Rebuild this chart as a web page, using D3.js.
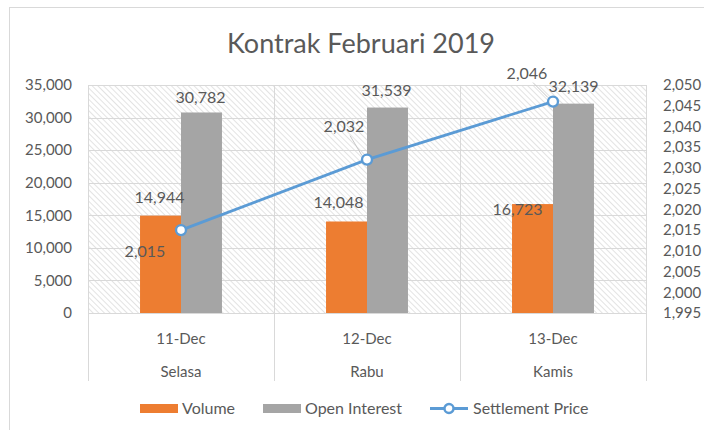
<!DOCTYPE html>
<html>
  <head>
    <title>Kontrak Februari 2019</title>
    <script src="https://d3js.org/d3.v7.min.js"></script>
    <style>
      body { margin: 0; background: #fff; }
      text { font-family: Lato, "Open Sans", sans-serif; fill: #595959; }
    </style>
  </head>
  <body>
    <div id="chart"></div>
    <script>
      // Data
      const categories = ["11-Dec", "12-Dec", "13-Dec"];
      const days = ["Selasa", "Rabu", "Kamis"];
      const volume = [14944, 14048, 16723];
      const openInterest = [30782, 31539, 32139];
      const settlement = [2015, 2032, 2046];
      const leftTicks = [0, 5000, 10000, 15000, 20000, 25000, 30000, 35000];
      const rightTicks = [1995, 2000, 2005, 2010, 2015, 2020, 2025, 2030, 2035, 2040, 2045, 2050];

      // label offsets (manual placement like the original)
      const volOffset = [[-1, -19], [-8, -19], [-15, 5]];
      const oiOffset = [[-1, -15], [-1, -18], [0, -18]];
      const spOffset = [[-36, 21], [-23, -34], [-26, -29]];

      const W = 704, H = 430;
      const plot = { left: 88, right: 646, top: 85, bottom: 313 };

      const svg = d3.select("#chart").append("svg")
        .attr("width", W).attr("height", H);

      // chart border
      svg.append("rect")
        .attr("x", 9.5).attr("y", 7.5)
        .attr("width", W).attr("height", H)
        .attr("fill", "#fff").attr("stroke", "#d9d9d9");

      // hatch pattern
      const defs = svg.append("defs");
      defs.append("pattern")
        .attr("id", "hatch")
        .attr("patternUnits", "userSpaceOnUse")
        .attr("width", 4).attr("height", 4)
        .attr("patternTransform", "rotate(-45)")
        .append("line")
        .attr("x1", 0).attr("y1", 0).attr("x2", 0).attr("y2", 4)
        .attr("stroke", "#cccccc").attr("stroke-width", 1.1);

      // scales
      const x0 = d3.scaleBand().domain(categories).range([plot.left, plot.right]);
      const x1 = d3.scaleBand().domain(["vol", "oi"]).range([0, x0.bandwidth()]).paddingOuter(1.27);
      const y = d3.scaleLinear().domain([0, 35000]).range([plot.bottom, plot.top]);
      const y2 = d3.scaleLinear().domain([1995, 2050]).range([plot.bottom, plot.top]);
      const fmt = d3.format(",");

      // title
      svg.append("text")
        .attr("x", 361).attr("y", 53)
        .attr("text-anchor", "middle")
        .style("font-size", "27px")
        .text("Kontrak Februari 2019");

      // plot area background
      svg.append("rect")
        .attr("x", plot.left).attr("y", plot.top)
        .attr("width", plot.right - plot.left).attr("height", plot.bottom - plot.top)
        .attr("fill", "url(#hatch)");

      // horizontal gridlines
      svg.append("g").selectAll("line").data(leftTicks).enter().append("line")
        .attr("x1", plot.left).attr("x2", plot.right)
        .attr("y1", d => Math.round(y(d)) + 0.5).attr("y2", d => Math.round(y(d)) + 0.5)
        .attr("stroke", "#d9d9d9");

      // vertical gridlines + category dividers
      const edges = categories.map(c => x0(c)).concat([plot.right]);
      svg.append("g").selectAll("line").data(edges).enter().append("line")
        .attr("x1", d => Math.round(d) + 0.5).attr("x2", d => Math.round(d) + 0.5)
        .attr("y1", plot.top).attr("y2", 381)
        .attr("stroke", "#d9d9d9");

      // left axis
      const leftAxis = svg.append("g")
        .attr("transform", `translate(${plot.left},0)`)
        .call(d3.axisLeft(y).tickValues(leftTicks).tickFormat(fmt).tickSize(0).tickPadding(16));
      leftAxis.select(".domain").remove();
      leftAxis.selectAll("text").style("font-size", "15px").attr("fill", "#595959");

      // right axis
      const rightAxis = svg.append("g")
        .attr("transform", `translate(${plot.right},0)`)
        .call(d3.axisRight(y2).tickValues(rightTicks).tickFormat(fmt).tickSize(0).tickPadding(17));
      rightAxis.select(".domain").remove();
      rightAxis.selectAll("text").style("font-size", "15px").attr("fill", "#595959");

      // bars
      const groups = svg.append("g").selectAll("g").data(categories).enter().append("g")
        .attr("transform", d => `translate(${x0(d)},0)`);
      groups.append("rect")
        .attr("x", x1("vol")).attr("width", x1.bandwidth())
        .attr("y", (d, i) => y(volume[i]))
        .attr("height", (d, i) => y(0) - y(volume[i]))
        .attr("fill", "#ed7d31");
      groups.append("rect")
        .attr("x", x1("oi")).attr("width", x1.bandwidth())
        .attr("y", (d, i) => y(openInterest[i]))
        .attr("height", (d, i) => y(0) - y(openInterest[i]))
        .attr("fill", "#a5a5a5");

      // category axis line
      svg.append("line")
        .attr("x1", plot.left).attr("x2", plot.right)
        .attr("y1", plot.bottom + 0.5).attr("y2", plot.bottom + 0.5)
        .attr("stroke", "#d9d9d9");

      // category labels
      const cx = c => x0(c) + x0.bandwidth() / 2;
      svg.append("g").selectAll("text").data(categories).enter().append("text")
        .attr("x", cx).attr("y", 344)
        .attr("text-anchor", "middle").style("font-size", "15px")
        .text(d => d);
      svg.append("g").selectAll("text").data(days).enter().append("text")
        .attr("x", (d, i) => cx(categories[i])).attr("y", 377)
        .attr("text-anchor", "middle").style("font-size", "15px")
        .text(d => d);

      // bar labels
      svg.append("g").selectAll("text").data(volume).enter().append("text")
        .attr("x", (d, i) => x0(categories[i]) + x1("vol") + x1.bandwidth() / 2 + volOffset[i][0])
        .attr("y", (d, i) => y(d) + volOffset[i][1] + 6)
        .attr("text-anchor", "middle").style("font-size", "16px")
        .text(d => fmt(d));
      svg.append("g").selectAll("text").data(openInterest).enter().append("text")
        .attr("x", (d, i) => x0(categories[i]) + x1("oi") + x1.bandwidth() / 2 + oiOffset[i][0])
        .attr("y", (d, i) => y(d) + oiOffset[i][1] + 6)
        .attr("text-anchor", "middle").style("font-size", "16px")
        .text(d => fmt(d));

      // settlement price line
      const line = d3.line()
        .x((d, i) => cx(categories[i]))
        .y(d => y2(d));
      svg.append("path")
        .datum(settlement)
        .attr("d", line)
        .attr("fill", "none")
        .attr("stroke", "#5b9bd5")
        .attr("stroke-width", 2.8);

      // leader lines for two of the price labels
      svg.append("g").selectAll("line").data(settlement).enter()
        .filter((d, i) => i > 0)
        .append("line")
        .attr("x1", (d, i) => cx(categories[i + 1]) + spOffset[i + 1][0] + 6)
        .attr("y1", (d, i) => y2(d) + spOffset[i + 1][1] + 10)
        .attr("x2", (d, i) => cx(categories[i + 1]) - 5)
        .attr("y2", (d, i) => y2(d) - 4)
        .attr("stroke", "#c8c8c8").attr("stroke-width", 1);

      svg.append("g").selectAll("circle").data(settlement).enter().append("circle")
        .attr("cx", (d, i) => cx(categories[i]))
        .attr("cy", d => y2(d))
        .attr("r", 5)
        .attr("fill", "#fff")
        .attr("stroke", "#5b9bd5")
        .attr("stroke-width", 2.4);

      svg.append("g").selectAll("text").data(settlement).enter().append("text")
        .attr("x", (d, i) => cx(categories[i]) + spOffset[i][0])
        .attr("y", (d, i) => y2(d) + spOffset[i][1] + 6)
        .attr("text-anchor", "middle").style("font-size", "16px")
        .text(d => fmt(d));

      // legend
      const legend = svg.append("g").attr("transform", "translate(0,408)");
      legend.append("rect").attr("x", 140).attr("y", -4).attr("width", 38).attr("height", 9).attr("fill", "#ed7d31");
      legend.append("text").attr("x", 182).attr("y", 5.5).style("font-size", "16px").text("Volume");
      legend.append("rect").attr("x", 263).attr("y", -4).attr("width", 38).attr("height", 9).attr("fill", "#a5a5a5");
      legend.append("text").attr("x", 305).attr("y", 5.5).style("font-size", "16px").text("Open Interest");
      legend.append("line").attr("x1", 430).attr("x2", 468).attr("y1", 0.5).attr("y2", 0.5)
        .attr("stroke", "#5b9bd5").attr("stroke-width", 2.8);
      legend.append("circle").attr("cx", 449).attr("cy", 0.5).attr("r", 4.5)
        .attr("fill", "#fff").attr("stroke", "#5b9bd5").attr("stroke-width", 2.4);
      legend.append("text").attr("x", 473).attr("y", 5.5).style("font-size", "16px").text("Settlement Price");
    </script>
  </body>
</html>
